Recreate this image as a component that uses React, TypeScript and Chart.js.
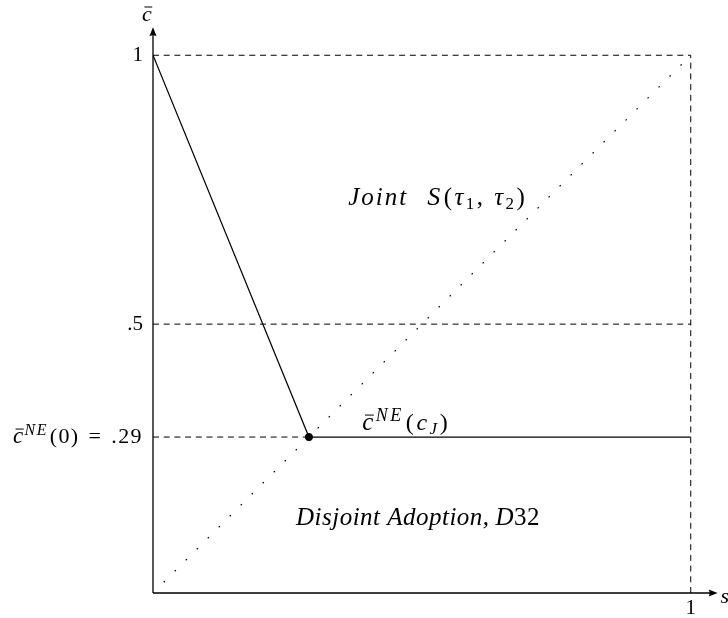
import React, { useEffect, useRef } from "react";
import { Chart, registerables } from "chart.js";

Chart.register(...registerables);

// Equilibrium frontier c̄(s): falls from (0, 1) to the kink, then flat at c̄^NE
const frontierS = [0, 0.29, 1];
const frontierC = [1, 0.29, 0.29];

// 45-degree reference line
const diagonalS = [0.02, 0.985];
const diagonalC = [0.02, 0.985];

// Kink point where the frontier meets the diagonal
const kinkS = [0.29];
const kinkC = [0.29];

// Dashed guide lines
const topGuideS = [0, 1];
const topGuideC = [1, 1];
const rightGuideS = [1, 1];
const rightGuideC = [0, 1];
const halfGuideS = [0, 1];
const halfGuideC = [0.5, 0.5];
const neGuideS = [0, 0.29];
const neGuideC = [0.29, 0.29];

// Axis tick values
const xTickValues = [1];
const yTickValues = [1, 0.5, 0.29];

const AXIS_MAX = 1.06;

const FAMILY = '"Liberation Serif", "DejaVu Serif", serif';
const roman = (px: number) => `${px}px ${FAMILY}`;
const ital = (px: number) => `italic ${px}px ${FAMILY}`;

type Seg = { t: string; font: string; dy?: number; bar?: number; gap?: number };

// Draws a run of differently styled pieces; when `width` is given the
// pieces are tracked out evenly so the run spans that many pixels.
function drawRich(
  ctx: CanvasRenderingContext2D,
  segs: Seg[],
  x: number,
  y: number,
  align: "left" | "right" | "center",
  width?: number
) {
  const c = ctx as any;
  c.letterSpacing = "0px";
  let natural = 0;
  let chars = 0;
  segs.forEach((s) => {
    ctx.font = s.font;
    natural += ctx.measureText(s.t).width + (s.gap || 0);
    chars += [...s.t].length;
  });
  const ls = width ? Math.max(0, (width - natural) / chars) : 0;
  const total = natural + ls * chars;
  let cx = align === "left" ? x : align === "right" ? x - total : x - total / 2;
  ctx.textAlign = "left";
  ctx.textBaseline = "alphabetic";
  segs.forEach((s) => {
    ctx.font = s.font;
    c.letterSpacing = "0px";
    const w0 = ctx.measureText(s.t).width;
    c.letterSpacing = `${ls}px`;
    const yy = y + (s.dy || 0);
    ctx.fillText(s.t, cx, yy);
    if (s.bar) {
      ctx.save();
      ctx.lineWidth = 1;
      ctx.beginPath();
      ctx.moveTo(cx + w0 * 0.25, yy - s.bar);
      ctx.lineTo(cx + w0 * 1.05, yy - s.bar);
      ctx.stroke();
      ctx.restore();
    }
    cx += w0 + ls * [...s.t].length + (s.gap || 0);
  });
  c.letterSpacing = "0px";
}

function arrowHead(ctx: CanvasRenderingContext2D, x: number, y: number, dir: "up" | "right") {
  const L = 9;
  const W = 3.6;
  ctx.beginPath();
  if (dir === "up") {
    ctx.moveTo(x, y);
    ctx.lineTo(x - W, y + L);
    ctx.quadraticCurveTo(x, y + L - 2, x + W, y + L);
  } else {
    ctx.moveTo(x, y);
    ctx.lineTo(x - L, y - W);
    ctx.quadraticCurveTo(x - L + 2, y, x - L, y + W);
  }
  ctx.closePath();
  ctx.fill();
}

const annotations = {
  id: "diagramAnnotations",
  afterDatasetsDraw(chart: Chart) {
    const ctx = chart.ctx;
    const xs = chart.scales.x;
    const ys = chart.scales.y;
    const ox = xs.getPixelForValue(0);
    const oy = ys.getPixelForValue(0);
    const xEnd = xs.getPixelForValue(1.05);
    const yEnd = ys.getPixelForValue(1.052);

    ctx.save();
    ctx.strokeStyle = "#000";
    ctx.fillStyle = "#000";

    // axes with arrow heads
    ctx.lineWidth = 1.3;
    ctx.beginPath();
    ctx.moveTo(ox, oy);
    ctx.lineTo(xEnd - 4, oy);
    ctx.moveTo(ox, oy);
    ctx.lineTo(ox, yEnd + 4);
    ctx.stroke();
    arrowHead(ctx, xEnd, oy, "right");
    arrowHead(ctx, ox, yEnd, "up");

    // axis titles
    drawRich(ctx, [{ t: "c", font: ital(22), bar: 14 }], ox - 11, 21, "left");
    drawRich(ctx, [{ t: "s", font: ital(22) }], xEnd + 3, oy + 10, "left");

    // x tick labels
    xTickValues.forEach((v) => {
      drawRich(ctx, [{ t: String(v), font: roman(21) }], xs.getPixelForValue(v), oy + 21, "center");
    });

    // y tick labels
    yTickValues.forEach((v) => {
      const py = ys.getPixelForValue(v) + 6;
      const rx = ox - 10;
      if (v === 1) {
        drawRich(ctx, [{ t: "1", font: roman(21) }], rx, py, "right");
      } else if (v === 0.5) {
        drawRich(ctx, [{ t: ".5", font: roman(21) }], rx, py, "right");
      } else {
        drawRich(
          ctx,
          [
            { t: "c", font: ital(23), bar: 14 },
            { t: "NE", font: ital(16), dy: -8, gap: 2 },
            { t: "(0)", font: roman(22), gap: 9 },
            { t: "=", font: roman(22), gap: 9 },
            { t: ".29", font: roman(22) },
          ],
          rx,
          py,
          "right",
          130
        );
      }
    });

    // region labels
    drawRich(
      ctx,
      [{ t: "Joint", font: ital(25) }],
      xs.getPixelForValue(0.363),
      ys.getPixelForValue(0.722),
      "left",
      60
    );
    drawRich(
      ctx,
      [
        { t: "S", font: ital(26), gap: 1 },
        { t: "(", font: roman(25) },
        { t: "τ", font: ital(25) },
        { t: "1", font: roman(17), dy: 4 },
        { t: ", ", font: roman(25) },
        { t: "τ", font: ital(25) },
        { t: "2", font: roman(17), dy: 4 },
        { t: ")", font: roman(25) },
      ],
      xs.getPixelForValue(0.51),
      ys.getPixelForValue(0.722),
      "left",
      100
    );

    drawRich(
      ctx,
      [
        { t: "Disjoint Adoption,", font: ital(25), gap: 6 },
        { t: "D", font: ital(25) },
        { t: "32", font: roman(25) },
      ],
      xs.getPixelForValue(0.266),
      ys.getPixelForValue(0.1265),
      "left",
      244
    );

    drawRich(
      ctx,
      [
        { t: "c", font: ital(25), bar: 15 },
        { t: "NE", font: ital(18), dy: -9, gap: 2 },
        { t: "(", font: roman(24) },
        { t: "c", font: ital(24) },
        { t: "J", font: ital(17), dy: 4 },
        { t: ")", font: roman(24) },
      ],
      xs.getPixelForValue(0.389),
      ys.getPixelForValue(0.303),
      "left",
      88
    );

    ctx.restore();
  },
};

const toPts = (s: number[], c: number[]) => s.map((v, i) => ({ x: v, y: c[i] }));

export default function App() {
  const ref = useRef<HTMLCanvasElement | null>(null);

  useEffect(() => {
    if (!ref.current) return;
    const dashed = {
      borderColor: "#000",
      borderWidth: 1,
      borderDash: [6, 4.7],
      pointRadius: 0,
      showLine: true,
      fill: false,
    };
    const chart = new Chart(ref.current, {
      type: "scatter",
      data: {
        datasets: [
          {
            label: "kink",
            data: toPts(kinkS, kinkC),
            pointRadius: 3.6,
            pointBackgroundColor: "#000",
            pointBorderColor: "#000",
            showLine: false,
            order: 0,
          },
          {
            label: "frontier",
            data: toPts(frontierS, frontierC),
            borderColor: "#000",
            borderWidth: 1.2,
            pointRadius: 0,
            showLine: true,
            order: 1,
          },
          {
            label: "diagonal",
            data: toPts(diagonalS, diagonalC),
            borderColor: "#000",
            borderWidth: 1.2,
            borderDash: [1.6, 13.95],
            pointRadius: 0,
            showLine: true,
            order: 2,
          },
          { label: "top", data: toPts(topGuideS, topGuideC), ...dashed, order: 3 },
          { label: "right", data: toPts(rightGuideS, rightGuideC), ...dashed, order: 3 },
          { label: "half", data: toPts(halfGuideS, halfGuideC), ...dashed, order: 3 },
          { label: "ne", data: toPts(neGuideS, neGuideC), ...dashed, order: 3 },
        ],
      },
      options: {
        responsive: false,
        animation: false,
        layout: { padding: { left: 153, top: 23, right: 5, bottom: 25 } },
        plugins: { legend: { display: false }, tooltip: { enabled: false } },
        scales: {
          x: { type: "linear", min: 0, max: AXIS_MAX, display: false },
          y: { type: "linear", min: 0, max: AXIS_MAX, display: false },
        },
      },
      plugins: [annotations],
    });
    return () => chart.destroy();
  }, []);

  return (
    <div style={{ position: "fixed", left: 0, top: 0, width: 728, height: 618, background: "#fff" }}>
      <canvas ref={ref} width={728} height={618} />
    </div>
  );
}
